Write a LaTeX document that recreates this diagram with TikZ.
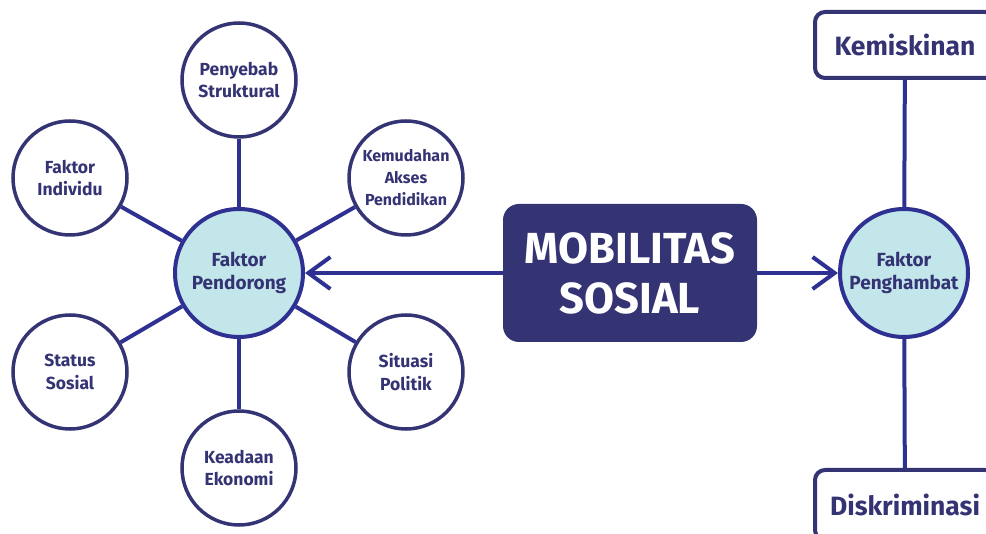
\documentclass[tikz,border=0pt]{standalone}
\usepackage{fontspec}
\setmainfont{Fira Sans}
\usetikzlibrary{arrows.meta,positioning}
\definecolor{navy}{HTML}{2E3192}
\definecolor{ink}{HTML}{343373}
\definecolor{aqua}{HTML}{C2E6EA}
\tikzset{
  hub/.style   = { draw=navy, line width=4pt, fill=aqua, circle, minimum size=128pt,
    inner sep=0pt, align=center, text=ink, font=\fontsize{19}{23}\selectfont\bfseries },
  sat/.style   = { draw=ink, line width=3.5pt, fill=white, circle, minimum size=114pt,
    inner sep=0pt, align=center, text=ink, font=\fontsize{17.5}{22.5}\selectfont\bfseries },
  tag/.style   = { draw=ink, line width=4pt, fill=white, rounded corners=10pt,
    minimum width=180pt, text=ink, font=\fontsize{26.5}{30}\selectfont\bfseries },
  core/.style  = { fill=ink, rounded corners=16pt, minimum width=254pt, minimum height=138pt,
    align=center, text=white, font=\fontsize{43.5}{50}\selectfont\bfseries },
  spoke/.style = { draw=navy, line width=4pt },
  link/.style  = { spoke, -{Straight Barb[length=22pt,width=32pt]} }
}

\begin{document}
\begin{tikzpicture}[x=1pt,y=-1pt,node distance=1cm,on grid]
    \useasboundingbox (0,0) rectangle (986,534);
    % hubs
    \node[hub] (pend) at (239,273) {Faktor\\Pendorong};
    \node[hub] (hamb) at (904,273) {Faktor\\Penghambat};
    \node[core] (mob) at (630,273) {MOBILITAS\\SOSIAL};
    % satellites of pendorong
    \node[sat, above=193pt of pend] (struk) {Penyebab\\Struktural};
    \node[sat, below=195pt of pend] (ekon) {Keadaan\\Ekonomi};
    \node[sat, above left=95pt and 169pt of pend] (indiv) {Faktor\\Individu};
    \node[sat, above right=95pt and 167pt of pend,
      font=\fontsize{16}{22}\selectfont\bfseries] (akses) {Kemudahan\\Akses\\Pendidikan};
    \node[sat, below left=99pt and 169pt of pend] (status) {Status\\Sosial};
    \node[sat, below right=99pt and 167pt of pend] (polit) {Situasi\\Politik};
    % penghambat boxes
    \node[tag, minimum height=66pt] (miskin) at (905,45) {Kemiskinan};
    \node[tag, minimum height=70pt] (diskr) at (905,505) {Diskriminasi};
    \foreach \s in {struk,ekon,indiv,akses,status,polit}
      \path[spoke] (pend) -- (\s);
    \path[spoke] (hamb) -- (miskin);
    \path[spoke] (hamb) -- (diskr);
    \draw[link] (mob.west) -- (pend);
    \draw[link] (mob.east) -- (hamb);
  \end{tikzpicture}
\end{document}
